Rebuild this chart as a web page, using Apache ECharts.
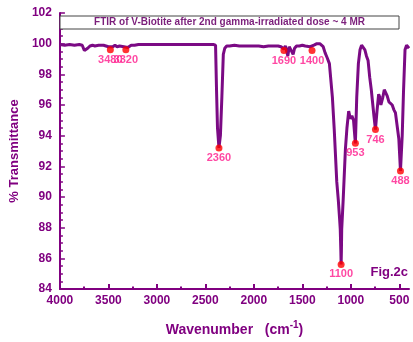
<!DOCTYPE html>
<html>
<head>
<meta charset="utf-8">
<script src="https://cdn.jsdelivr.net/npm/echarts@6/dist/echarts.min.js"></script>
<style>html,body{margin:0;padding:0;background:#fff}#c{width:413px;height:342px}</style>
</head>
<body>
<div id="c"></div>
<script>
// Spectrum (wavenumber, % transmittance)
const wavenumbers = [4000,3950,3900,3850,3800,3770,3748,3730,3714,3690,3664,3640,3631,3600,3581,3550,3531,3500,3480,3455,3432,3410,3402,3385,3365,3340,3320,3300,3282,3265,3252,3230,3215,3190,3100,3000,2900,2830,2815,2800,2700,2600,2500,2420,2400,2395,2385,2375,2360,2345,2330,2315,2300,2280,2250,2200,2150,2090,2070,2050,2000,1950,1900,1880,1850,1800,1750,1720,1700,1690,1675,1665,1650,1635,1625,1610,1595,1580,1560,1530,1500,1470,1450,1420,1400,1380,1350,1320,1300,1285,1265,1245,1221,1190,1171,1161,1145,1129,1115,1109,1103,1100,1097,1094,1079,1056,1040,1022,1005,989,972,953,939,922,905,889,872,855,839,822,805,789,773,760,746,730,713,700,690,670,655,640,625,607,590,573,557,540,523,505,488,470,457,441,425,408,400];
const transmittance = [99.95,99.9,99.95,99.9,99.95,99.9,99.55,99.6,99.7,99.85,99.9,99.85,99.8,99.9,99.95,99.9,99.85,99.8,99.7,99.8,99.9,99.8,99.7,99.85,99.95,99.8,99.7,99.75,99.8,99.9,99.95,99.9,99.8,99.95,99.95,99.95,99.95,99.95,100.0,99.95,99.95,99.95,99.95,99.95,99.95,99.9,97.0,94.5,93.2,94.0,96.5,99.3,99.7,99.85,99.85,99.9,99.85,99.85,99.75,99.85,99.85,99.85,99.8,99.75,99.85,99.85,99.85,99.8,99.7,99.65,99.85,99.95,99.2,99.8,99.85,99.5,99.3,99.7,99.85,99.85,99.9,99.85,99.8,99.8,99.75,99.9,100.0,100.0,99.9,99.8,99.4,99.1,98.7,96.5,94.4,93.1,91.0,89.8,88.5,87.9,86.5,85.6,86.5,87.9,89.8,93.1,94.5,95.6,95.1,95.3,95.0,93.5,96.5,98.7,99.6,99.9,100.0,99.6,99.2,98.9,97.8,97.0,96.0,95.2,94.4,95.6,96.7,96.5,96.0,96.5,97.0,97.1,96.6,96.2,96.1,96.0,95.7,95.5,95.4,93.8,91.7,94.0,96.8,99.6,99.9,100.0,99.7];

// Labelled peaks
const peakWavenumbers = [3480,3320,2360,1690,1400,1100,953,746,488];
const peakValues = [99.6,99.6,93.2,99.55,99.55,85.6,93.5,94.4,91.7];

// Axis ticks
const xLabelTicks = [4000,3500,3000,2500,2000,1500,1000,500];
const xMinorTicks = [3750,3250,2750,2250,1750,1250,750];

const purple = '#800080';
const font = 'Liberation Sans, Arial, sans-serif';

const chart = echarts.init(document.getElementById('c'));
const axisCommon = {
  type: 'value', min: 400, max: 4000, inverse: true,
  splitLine: {show: false}
};
chart.setOption({
  animation: false,
  grid: {left: 48, right: 4, top: 13, bottom: 52},
  xAxis: [Object.assign({}, axisCommon, {
    position: 'bottom',
    axisLine: {show: true, lineStyle: {color: purple, width: 2}},
    axisTick: {show: true, inside: true, length: 5, lineStyle: {color: purple, width: 2}, customValues: xLabelTicks},
    axisLabel: {show: true, color: purple, fontWeight: 'bold', fontSize: 12, fontFamily: font, margin: 6,
      customValues: xLabelTicks, formatter: v => String(v)},
    name: '{a|Wavenumber   (cm}{s|-1}{a|)}',
    nameLocation: 'middle',
    nameGap: 31,
    nameTextStyle: {
      rich: {
        a: {fontSize: 14, fontWeight: 'bold', color: purple, fontFamily: font},
        s: {fontSize: 10, fontWeight: 'bold', color: purple, fontFamily: font, padding: [0, 0, 10, 0]}
      }
    }
  }), Object.assign({}, axisCommon, {
    position: 'bottom',
    axisLine: {show: false},
    axisTick: {show: true, inside: true, length: 2.5, lineStyle: {color: purple, width: 2}, customValues: xMinorTicks},
    axisLabel: {show: false}
  })],
  yAxis: {
    type: 'value', min: 84, max: 102, interval: 2,
    splitLine: {show: false},
    axisLine: {show: true, lineStyle: {color: purple, width: 2}},
    axisTick: {show: true, inside: true, length: 5, lineStyle: {color: purple, width: 1.5}},
    minorTick: {show: true, splitNumber: 4, length: 3, lineStyle: {color: purple, width: 1.5}},
    axisLabel: {color: purple, fontWeight: 'bold', fontSize: 12, fontFamily: font, margin: 8},
    name: '% Transmittance',
    nameLocation: 'middle',
    nameGap: 30,
    nameTextStyle: {color: purple, fontWeight: 'bold', fontSize: 13, fontFamily: font}
  },
  series: [{
    type: 'line',
    data: wavenumbers.map((w, i) => [w, transmittance[i]]),
    showSymbol: false,
    lineStyle: {color: '#7B0A84', width: 3},
    z: 2
  }, {
    type: 'scatter',
    data: peakWavenumbers.map((w, i) => [w, peakValues[i]]),
    symbolSize: 7,
    itemStyle: {color: '#FF0000'},
    label: {show: true, position: 'bottom', distance: 1, formatter: p => String(p.value[0]),
      color: '#FF1A8C', fontWeight: 'bold', fontSize: 11, fontFamily: font},
    z: 3
  }],
  graphic: [{
    type: 'rect', shape: {x: 60, y: 16, width: 339, height: 13},
    style: {fill: '#fff', stroke: '#444', lineWidth: 1}, z: 10
  }, {
    type: 'text', x: 229.5, y: 22.5,
    style: {text: 'FTIR of V-Biotite after 2nd gamma-irradiated dose ~ 4 MR', fill: '#7B1F7B',
      font: 'bold 10px ' + font, align: 'center', verticalAlign: 'middle'}, z: 11
  }, {
    type: 'text', x: 408, y: 272,
    style: {text: 'Fig.2c', fill: purple, font: 'bold 13px ' + font, align: 'right', verticalAlign: 'middle'}, z: 11
  }]
});
</script>
</body>
</html>
